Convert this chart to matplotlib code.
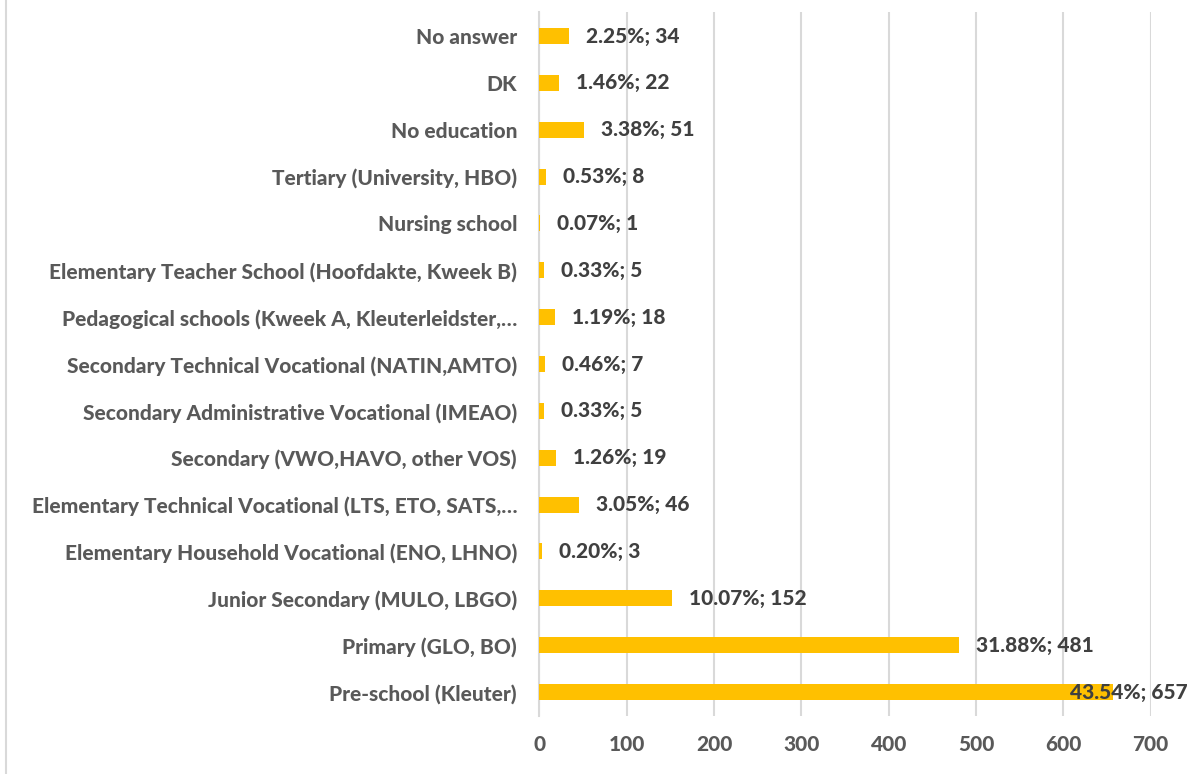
import matplotlib
matplotlib.use("Agg")
import matplotlib.pyplot as plt
from matplotlib.lines import Line2D

categories = [
    "Pre-school (Kleuter)",
    "Primary (GLO, BO)",
    "Junior Secondary (MULO, LBGO)",
    "Elementary Household Vocational (ENO, LHNO)",
    "Elementary Technical Vocational (LTS, ETO, SATS,\u2026",
    "Secondary (VWO,HAVO, other VOS)",
    "Secondary Administrative Vocational (IMEAO)",
    "Secondary Technical Vocational (NATIN,AMTO)",
    "Pedagogical schools (Kweek A, Kleuterleidster,\u2026",
    "Elementary Teacher School (Hoofdakte, Kweek B)",
    "Nursing school",
    "Tertiary (University, HBO)",
    "No education",
    "DK",
    "No answer",
]
counts = [657, 481, 152, 3, 46, 19, 5, 7, 18, 5, 1, 8, 51, 22, 34]
percents = ["43.54%", "31.88%", "10.07%", "0.20%", "3.05%", "1.26%", "0.33%",
            "0.46%", "1.19%", "0.33%", "0.07%", "0.53%", "3.38%", "1.46%", "2.25%"]
xticks = [0, 100, 200, 300, 400, 500, 600, 700]

W, H = 1195, 774
fig = plt.figure(figsize=(W / 100, H / 100), dpi=100)
left, right = 539.3, 1150.7
top, bottom = 12, 716
ax = fig.add_axes([left / W, 1 - bottom / H, (right - left) / W, (bottom - top) / H])

font = "Lato"
weight = "black"
bar_color = "#FFC000"
grid_color = "#D9D9D9"
tick_color = "#595959"
label_color = "#404040"
fs = 15

y = list(range(len(categories)))
ax.barh(y, counts, height=0.34, color=bar_color, zorder=3)
ax.set_xlim(0, 700)
step = (692 - 36) / 14
ylo = -(bottom - 692) / step
yhi = 14 + (36 - top) / step
ax.set_ylim(ylo, yhi)

ax.set_xticks(xticks)
ax.set_xticklabels([str(t) for t in xticks], fontsize=fs, fontweight=weight,
                   color=tick_color, family=font)
ax.set_yticks(y)
ax.set_yticklabels(categories, fontsize=fs, fontweight=weight, color=tick_color, family=font)
ax.tick_params(axis="both", length=0)
ax.tick_params(axis="y", pad=16)
ax.tick_params(axis="x", pad=14)
ax.xaxis.grid(True, color=grid_color, linewidth=1.5, zorder=0)
for s in ["top", "right", "bottom"]:
    ax.spines[s].set_visible(False)
ax.spines["left"].set_color(grid_color)
ax.spines["left"].set_linewidth(1.5)

for i, (c, p) in enumerate(zip(counts, percents)):
    txt = f"{p}; {c}"
    off = -43 if c > 600 else 17
    ax.annotate(txt, xy=(c, i), xytext=(off, 0), textcoords="offset pixels",
                ha="left", va="center", fontsize=fs, fontweight=weight,
                color=label_color, family=font, zorder=4)

fig.add_artist(Line2D([6.5 / W, 6.5 / W], [0, 1], color=grid_color, linewidth=1.5))

fig.savefig("out.png", dpi=100)
